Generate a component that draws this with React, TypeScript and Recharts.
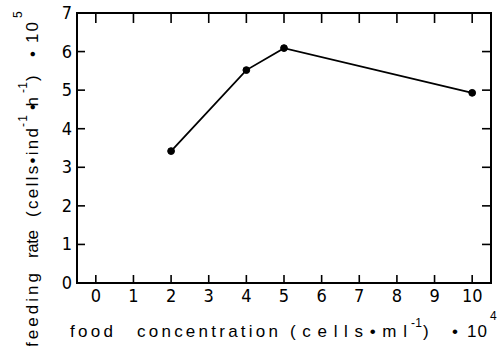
import React from "react";
import { LineChart, Line, XAxis, YAxis, ReferenceArea } from "recharts";

const concentration = [2, 4, 5, 10];
const feedingRate = [3.42, 5.52, 6.09, 4.93];
const xTicks = [0, 1, 2, 3, 4, 5, 6, 7, 8, 9, 10];
const yTicks = [0, 1, 2, 3, 4, 5, 6, 7];
const xDomain: [number, number] = [-0.5, 10.5];
const yDomain: [number, number] = [0, 7];

const data = concentration.map((c, i) => ({ x: c, y: feedingRate[i] }));

const W = 498;
const H = 346;
const MARGIN = { top: 13, right: 7, bottom: 33, left: 37 };
const PLOT_TOP = MARGIN.top;
const PLOT_RIGHT = W - MARGIN.right;
const TICK_FONT = "'Liberation Sans Narrow', 'DejaVu Sans Condensed', 'Liberation Sans', sans-serif";
const TITLE_FONT = "'Liberation Sans', Arial, sans-serif";
const INK = "#000";

const LeftTick = (props: any) => {
  const { x, y, payload } = props;
  const axisX = x + 5;
  return (
    <g>
      <line x1={axisX} y1={y} x2={axisX + 8} y2={y} stroke={INK} strokeWidth={1.6} />
      <line x1={PLOT_RIGHT} y1={y} x2={PLOT_RIGHT - 9} y2={y} stroke={INK} strokeWidth={1.6} />
      <text x={x} y={y + 6} textAnchor="end" fontSize={18} fontFamily={TICK_FONT} fill={INK}>
        {payload.value}
      </text>
    </g>
  );
};

const BottomTick = (props: any) => {
  const { x, y, payload } = props;
  const axisY = y - 5;
  return (
    <g>
      <line x1={x} y1={axisY} x2={x} y2={axisY - 8} stroke={INK} strokeWidth={1.6} />
      <line x1={x} y1={PLOT_TOP} x2={x} y2={PLOT_TOP + 10} stroke={INK} strokeWidth={1.6} />
      <text x={x} y={axisY + 19} textAnchor="middle" fontSize={18} fontFamily={TICK_FONT} fill={INK}>
        {payload.value}
      </text>
    </g>
  );
};

type Chunk = { t: string; a: number; b: number; base: number; size: number };

// x-title chunks: a = left x, b = right x, base = baseline y
const xTitle: Chunk[] = [
  { t: "food", a: 70, b: 113, base: 337, size: 17 },
  { t: "concentration", a: 137, b: 278, base: 337, size: 17 },
  { t: "(cells•ml", a: 290, b: 407, base: 337, size: 17 },
  { t: "-1", a: 411, b: 422, base: 327, size: 12 },
  { t: ")", a: 423, b: 428, base: 337, size: 17 },
  { t: "•", a: 452, b: 458, base: 337, size: 17 },
  { t: "10", a: 467, b: 487, base: 337, size: 17 },
  { t: "4", a: 490, b: 496, base: 320, size: 12 },
];

// y-title chunks (rotated): a = bottom y, b = top y, base = baseline x
const yTitle: Chunk[] = [
  { t: "feeding", a: 347, b: 273, base: 38, size: 17 },
  { t: "rate", a: 258, b: 230, base: 38, size: 17 },
  { t: "(cells•ind", a: 217, b: 128, base: 38, size: 17 },
  { t: "-1", a: 127, b: 115, base: 27, size: 12 },
  { t: "•h", a: 110, b: 97, base: 38, size: 17 },
  { t: "-1", a: 93, b: 82, base: 27, size: 12 },
  { t: ")", a: 81, b: 66, base: 38, size: 17 },
  { t: "•", a: 57, b: 50, base: 38, size: 17 },
  { t: "10", a: 43, b: 22, base: 38, size: 17 },
  { t: "5", a: 18, b: 12, base: 22, size: 12 },
];

export default function App() {
  return (
    <div style={{ position: "absolute", left: 0, top: 0, width: W, height: H, background: "#fff" }}>
      <LineChart width={W} height={H} data={data} margin={MARGIN}>
        <XAxis
          dataKey="x"
          type="number"
          domain={xDomain}
          ticks={xTicks}
          interval={0}
          height={30}
          tickSize={0}
          tickMargin={5}
          tickLine={false}
          axisLine={{ stroke: INK, strokeWidth: 2 }}
          tick={<BottomTick />}
        />
        <YAxis
          type="number"
          domain={yDomain}
          ticks={yTicks}
          interval={0}
          width={40}
          tickSize={0}
          tickMargin={5}
          tickLine={false}
          axisLine={{ stroke: INK, strokeWidth: 2 }}
          tick={<LeftTick />}
        />
        <ReferenceArea
          x1={xDomain[0]}
          x2={xDomain[1]}
          y1={yDomain[0]}
          y2={yDomain[1]}
          fill="none"
          fillOpacity={0}
          stroke={INK}
          strokeWidth={2}
          strokeOpacity={1}
          ifOverflow="visible"
        />
        <Line
          type="linear"
          dataKey="y"
          stroke={INK}
          strokeWidth={1.8}
          dot={{ r: 3.4, fill: INK, stroke: INK, strokeWidth: 1 }}
          isAnimationActive={false}
        />
      </LineChart>
      <svg
        width={W}
        height={H}
        style={{ position: "absolute", left: 0, top: 0, pointerEvents: "none" }}
      >
        {xTitle.map((c, i) => (
          <text
            key={"x" + i}
            x={c.a}
            y={c.base}
            fontSize={c.size}
            fontFamily={TITLE_FONT}
            fill={INK}
            textLength={c.t.length > 1 ? c.b - c.a : undefined}
            lengthAdjust="spacing"
          >
            {c.t}
          </text>
        ))}
        {yTitle.map((c, i) => (
          <text
            key={"y" + i}
            transform={`translate(${c.base}, ${c.a}) rotate(-90)`}
            x={0}
            y={0}
            fontSize={c.size}
            fontFamily={TITLE_FONT}
            fill={INK}
            textLength={c.t.length > 1 ? c.a - c.b : undefined}
            lengthAdjust="spacing"
          >
            {c.t}
          </text>
        ))}
      </svg>
    </div>
  );
}
